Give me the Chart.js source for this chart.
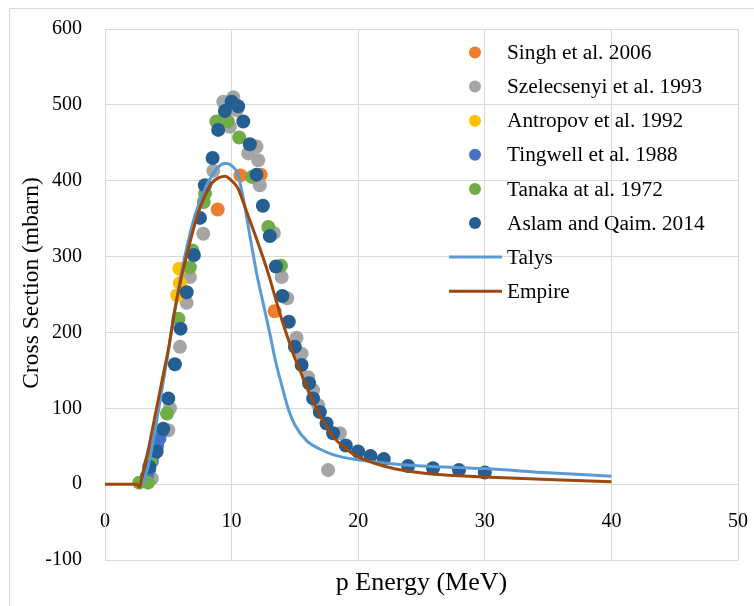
<!DOCTYPE html>
<html>
<head>
<meta charset="utf-8">
<script src="https://cdn.jsdelivr.net/npm/chart.js@4.4.0/dist/chart.umd.min.js"></script>
<style>
html,body{margin:0;padding:0;background:#fff;}
#wrap{width:754px;height:606px;position:relative;}
</style>
</head>
<body>
<div id="wrap"><canvas id="c" width="754" height="606"></canvas></div>
<script>
// ---- data ----
const seriesNames = ["Singh et al. 2006","Szelecsenyi et al. 1993","Antropov et al. 1992","Tingwell et al. 1988","Tanaka at al. 1972","Aslam and Qaim. 2014","Talys","Empire"];

const singhE = [8.9, 10.7, 12.3, 13.4];
const singhS = [362, 407, 408, 228];

const szelE = [3.7, 5.0, 5.13, 5.92, 6.45, 6.71, 7.76, 8.55, 9.34, 10.13, 10.39, 9.87, 11.31, 11.97, 12.1, 12.23, 13.34, 13.95, 14.39, 15.13, 15.53, 16.05, 16.44, 16.84, 18.55, 17.62];
const szelS = [7.5, 71, 100, 181, 239, 273, 330, 413, 504, 510, 493, 471, 436, 445, 427, 394, 331, 273, 245, 193, 172, 141, 124, 104, 67, 18.5];

const antrE = [5.71, 5.87, 5.92];
const antrS = [249, 284, 265];

const tingE = [3.3, 3.5, 3.7, 3.9, 4.1, 4.3, 4.5];
const tingS = [10, 20, 30, 40, 50, 60, 70];

const tanaE = [2.7, 3.4, 3.6, 4.9, 5.8, 6.7, 6.9, 7.8, 7.9, 8.8, 9.7, 10.6, 11.6, 12.9, 13.9];
const tanaS = [2, 2, 29, 93, 218, 286, 308, 372, 383, 478, 478, 457, 405, 339, 288];

const aslamE = [3.5, 4.08, 4.6, 5.0, 5.52, 5.97, 6.45, 7.02, 7.5, 7.89, 8.5, 8.94, 9.47, 10.0, 10.52, 10.92, 11.44, 11.97, 12.47, 13.02, 13.5, 14.01, 14.52, 15.0, 15.53, 16.12, 16.44, 16.97, 17.5, 18.02, 19.02, 19.99, 20.97, 22.02, 23.94, 25.91, 27.96, 30.0];
const aslamS = [23, 43, 73, 113, 158, 205, 253, 302, 351, 394, 430, 467, 492, 504, 498, 478, 448, 408, 367, 327, 287, 248, 214, 181, 157, 133, 113, 95, 80, 67, 51, 43, 37, 33, 24, 21, 18.5, 15.4];

const talysE = [3.0, 3.5, 4.0, 4.5, 5.0, 5.5, 6.0, 6.5, 7.0, 7.5, 8.0, 8.5, 9.0, 9.5, 10.0, 10.5, 11.0, 11.5, 12.0, 12.5, 13.0, 13.5, 14.0, 14.5, 15.0, 16.0, 17.0, 18.0, 20.0, 22.0, 25.0, 30.0, 35.0, 40.0];
const talysS = [0, 30, 75, 125, 175, 228, 275, 315, 348, 373, 393, 408, 419, 423, 420, 408, 370, 322, 276, 238, 200, 160, 128, 98, 78, 56, 46, 39, 32, 28, 24, 20.5, 15, 10.5];

const empireE = [0, 2.5, 2.72, 2.9, 3.5, 4.0, 4.5, 5.0, 5.5, 6.0, 6.5, 7.0, 7.5, 8.0, 8.5, 9.0, 9.5, 10.0, 10.5, 11.0, 11.5, 12.0, 12.5, 13.0, 13.5, 14.0, 14.5, 15.0, 15.5, 16.0, 17.0, 18.0, 19.0, 20.0, 22.0, 24.0, 26.0, 28.0, 30.0, 35.0, 40.0];
const empireS = [0, 0, -4, 8, 52, 94, 136, 177, 228, 270, 305, 337, 364, 384, 398, 404, 406, 400, 390, 368, 345, 322, 298, 272, 243, 215, 190, 166, 146, 126, 90, 63, 47, 36, 24, 17, 13, 11, 9.5, 6, 3];

const xTicks = [0, 10, 20, 30, 40, 50];
const yTicks = [-100, 0, 100, 200, 300, 400, 500, 600];

// ---- styles ----
const colors = ["#ED7D31","#A5A5A5","#FFC000","#4472C4","#70AD47","#255E91","#5B9BD5","#9E480E"];
const FONT = "'Liberation Serif','Times New Roman',serif";

function pts(xs, ys){ return xs.map((x,i)=>({x:x,y:ys[i]})); }
const scatterSets = [[singhE,singhS],[szelE,szelS],[antrE,antrS],[tingE,tingS],[tanaE,tanaS],[aslamE,aslamS]];
const lineSets = [[talysE,talysS],[empireE,empireS]];

const datasets = [];
scatterSets.forEach((s,i)=>{
  datasets.push({
    label: seriesNames[i], data: pts(s[0],s[1]), showLine:false,
    pointRadius:7, pointHoverRadius:7, pointBackgroundColor:colors[i], pointBorderWidth:0,
    backgroundColor:colors[i], borderColor:colors[i], order: 8 - i
  });
});
lineSets.forEach((s,j)=>{
  const i = 6 + j;
  datasets.push({
    label: seriesNames[i], data: pts(s[0],s[1]), showLine:true,
    pointRadius:0, borderWidth:3, borderColor:colors[i], backgroundColor:colors[i],
    cubicInterpolationMode:'monotone', order: 8 - i
  });
});

const decor = {
  id:'decor',
  beforeDraw(chart){
    const ctx = chart.ctx;
    ctx.save();
    ctx.fillStyle = '#fff';
    ctx.fillRect(0,0,chart.width,chart.height);
    ctx.strokeStyle = '#D9D9D9';
    ctx.lineWidth = 1;
    ctx.beginPath();
    ctx.moveTo(9.5, chart.height); ctx.lineTo(9.5, 8.5); ctx.lineTo(chart.width, 8.5);
    ctx.stroke();
    ctx.restore();
  },
  afterDraw(chart){
    const ctx = chart.ctx;
    ctx.save();
    ctx.fillStyle = '#000';
    const ca = chart.chartArea;
    ctx.textAlign = 'center'; ctx.textBaseline = 'middle';
    ctx.font = "26px " + FONT;
    ctx.fillText("p Energy (MeV)", (ca.left+ca.right)/2, 583);
    ctx.font = "23.5px " + FONT;
    ctx.save();
    ctx.translate(32, 283);
    ctx.rotate(-Math.PI/2);
    ctx.fillText("Cross Section (mbarn)", 0, 0);
    ctx.restore();
    // legend
    ctx.font = "21.3px " + FONT;
    ctx.textAlign = 'left'; ctx.textBaseline = 'middle';
    const y0 = 52.5, dy = 34.1;
    chart.data.datasets.forEach((ds,i)=>{
      const y = y0 + i*dy;
      if (ds.showLine){
        ctx.strokeStyle = ds.borderColor; ctx.lineWidth = 3;
        ctx.beginPath(); ctx.moveTo(449,y); ctx.lineTo(502,y); ctx.stroke();
      } else {
        ctx.fillStyle = ds.pointBackgroundColor;
        ctx.beginPath(); ctx.arc(475,y,6,0,Math.PI*2); ctx.fill();
      }
      ctx.fillStyle = '#000';
      ctx.fillText(ds.label, 507, y+1);
    });
    ctx.restore();
  }
};

new Chart(document.getElementById('c'), {
  type:'scatter',
  data:{datasets:datasets},
  options:{
    responsive:false, animation:false,
    layout:{padding:{top:29,right:16,bottom:46,left:0}},
    plugins:{legend:{display:false}, tooltip:{enabled:false}},
    scales:{
      x:{
        type:'linear', min:0, max:50, position:{y:0},
        afterBuildTicks(s){ s.ticks = xTicks.map(v=>({value:v})); },
        afterFit(s){ s.paddingLeft = 0; s.paddingRight = 0; s.paddingTop = 0; s.paddingBottom = 0; },
        grid:{color:'#D9D9D9', lineWidth:1, drawTicks:false},
        border:{display:true, color:'#D9D9D9', width:1},
        ticks:{padding:26, color:'#000', font:{family:FONT, size:20}, maxRotation:0}
      },
      y:{
        type:'linear', min:-100, max:600,
        afterBuildTicks(s){ s.ticks = yTicks.map(v=>({value:v})); },
        afterFit(s){ s.width = 105; s.paddingTop = 0; s.paddingBottom = 0; s.paddingLeft = 0; s.paddingRight = 0; },
        grid:{color:'#D9D9D9', lineWidth:1, drawTicks:false},
        border:{display:true, color:'#D9D9D9', width:1},
        ticks:{padding:23, color:'#000', font:{family:FONT, size:20}}
      }
    }
  },
  plugins:[decor]
});
</script>
</body>
</html>
